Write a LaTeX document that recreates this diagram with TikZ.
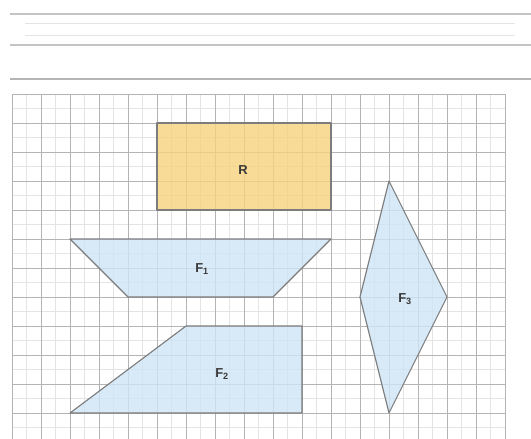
\documentclass[tikz,border=0pt]{standalone}
\usepackage{fontspec}
\setmainfont{Liberation Sans}
\definecolor{majorgrid}{HTML}{B4B4B4}
\definecolor{minorgrid}{HTML}{E4E4E4}
\definecolor{rfill}{HTML}{F6D27C}
\definecolor{ffill}{HTML}{CFE4F5}
\definecolor{edge}{HTML}{7C7C7C}
\definecolor{rule}{HTML}{C4C4C4}
\definecolor{txt}{HTML}{3A3A3A}
\tikzset{
  majorline/.style={draw=majorgrid, line width=0.9pt},
  minorline/.style={draw=minorgrid, line width=0.6pt},
  shapeR/.style={fill=rfill, fill opacity=0.8, draw=edge, draw opacity=1, line width=1.1pt, line join=round},
  shapeF/.style={fill=ffill, fill opacity=0.8, draw=edge, draw opacity=1, line width=1.1pt, line join=round},
  lbl/.style={font=\fontsize{13}{13}\selectfont\bfseries, text=txt, inner sep=0pt},
}
\begin{document}
\begin{tikzpicture}[x=1pt,y=-1pt]
\useasboundingbox (0,0) rectangle (531,439);
\fill[white] (0,0) rectangle (531,439);
% top rules
\draw[draw=rule, line width=1.2pt] (10,14) -- (531,14);
\draw[draw=minorgrid, line width=0.6pt] (25,23) -- (515,23);
\draw[draw=minorgrid, line width=0.6pt] (25,35) -- (515,35);
\draw[draw=rule, line width=1.2pt] (10,45) -- (531,45);
\draw[draw=majorgrid, line width=1.4pt] (10,79) -- (531,79);
% grid minor
\foreach \i in {0,...,33} {
  \draw[minorline] ({12+14.5*\i},94) -- ({12+14.5*\i},439);
}
\foreach \j in {0,...,24} {
  \draw[minorline] (12,{94+14.5*\j}) -- (505,{94+14.5*\j});
}
% grid major
\foreach \i in {0,...,17} {
  \draw[majorline] ({12+29*\i},94) -- ({12+29*\i},439);
}
\foreach \j in {0,...,12} {
  \draw[majorline] (12,{94+29*\j}) -- (505,{94+29*\j});
}
% shapes
\draw[shapeR] (157,123) rectangle (331,210);
\draw[shapeF] (70,239) -- (331,239) -- (273,297) -- (128,297) -- cycle;
\draw[shapeF] (186,326) -- (302,326) -- (302,413) -- (70,413) -- cycle;
\draw[shapeF] (389,181) -- (447,297) -- (389,413) -- (360,297) -- cycle;
% labels
\node[lbl] (labR) at (243,170) {R};
\node[lbl] (labF1) at (202,269) {F\textsubscript{1}};
\node[lbl] (labF2) at (222,374) {F\textsubscript{2}};
\node[lbl] (labF3) at (405,299) {F\textsubscript{3}};
\end{tikzpicture}
\end{document}
